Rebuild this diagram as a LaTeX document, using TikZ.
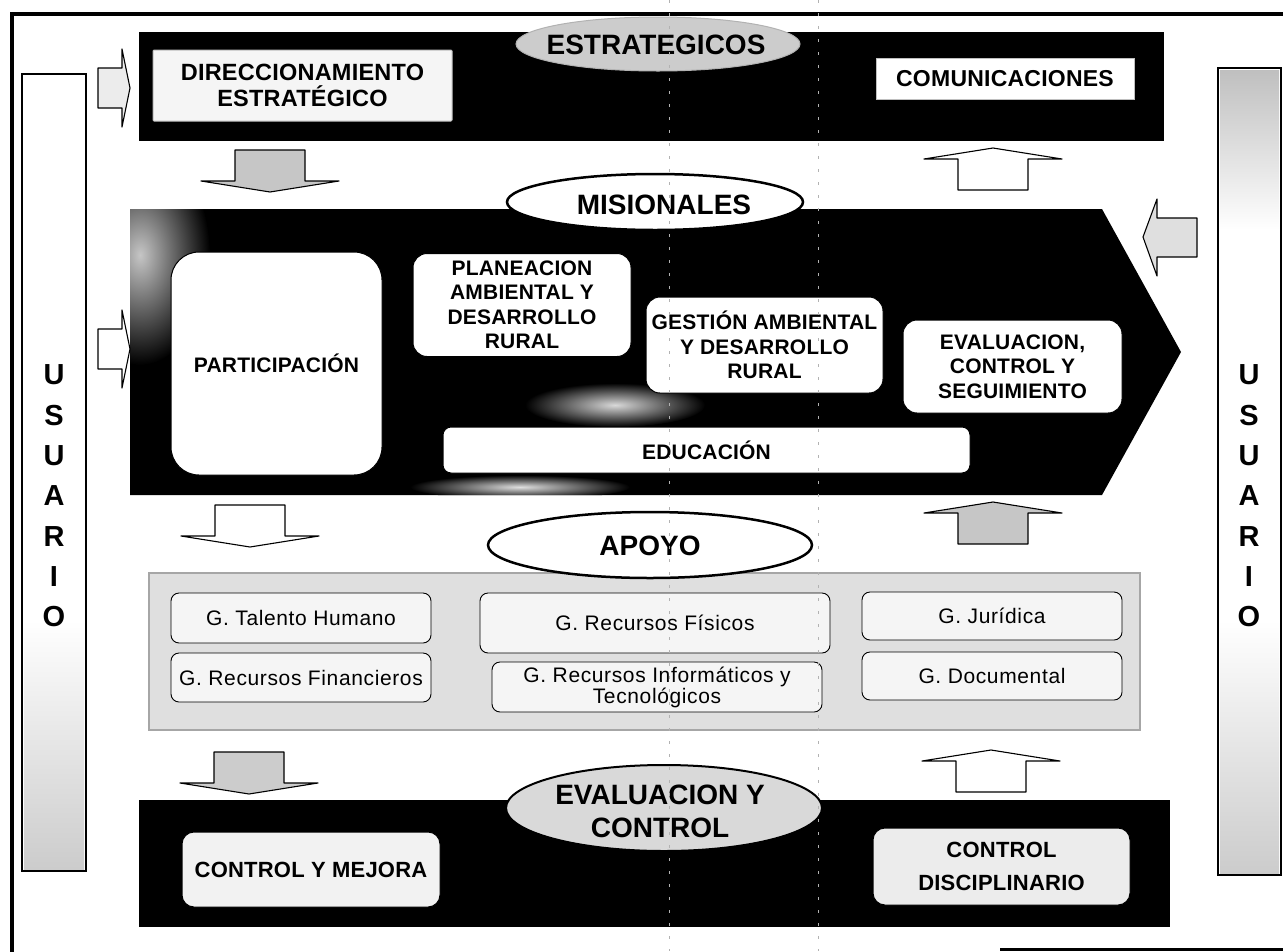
\documentclass[tikz,border=0pt]{standalone}
\usepackage{fontspec}
\setmainfont{Liberation Sans}
\newfontfamily\lsfont{Liberation Sans}[LetterSpace=1]
\newfontfamily\rgfont{Liberation Sans}[LetterSpace=3]
\newcommand\blkdown[3]{\filldraw[arr,fill=#3] ({#1-35},#2) -- ({#1+35},#2) -- ({#1+35},{#2+31}) -- ({#1+69},{#2+31}) -- (#1,{#2+42}) -- ({#1-69},{#2+31}) -- ({#1-35},{#2+31}) -- cycle;}
\newcommand\blkup[3]{\filldraw[arr,fill=#3] (#1,#2) -- ({#1+69},{#2+11}) -- ({#1+35},{#2+11}) -- ({#1+35},{#2+42}) -- ({#1-35},{#2+42}) -- ({#1-35},{#2+11}) -- ({#1-69},{#2+11}) -- cycle;}
\newcommand\blkright[3]{\filldraw[arr,fill=#3] (#1,{#2-20}) -- ({#1+24},{#2-20}) -- ({#1+24},{#2-39}) -- ({#1+32},#2) -- ({#1+24},{#2+39}) -- ({#1+24},{#2+20}) -- (#1,{#2+20}) -- cycle;}
\begin{document}
\begin{tikzpicture}[x=1pt,y=-1pt,
  boxst/.style={draw=black,line width=1pt,fill=white,rounded corners=10pt,align=center,inner sep=0pt,font=\lsfont\bfseries\fontsize{21}{24.5}\selectfont},
  apst/.style={draw=black,line width=0.9pt,fill=gray!8,rounded corners=8pt,align=center,inner sep=0pt,font=\rgfont\fontsize{21}{21}\selectfont},
  bigl/.style={font=\bfseries\fontsize{28}{33}\selectfont,align=center,inner sep=0pt},
  usr/.style={font=\bfseries\fontsize{29}{29}\selectfont,inner sep=0pt},
  arr/.style={draw=black,line width=1.1pt,line join=round},
  oval/.style={draw=black,line width=2.5pt,fill=white},
]
\fill[white] (0,0) rectangle (1283,951);
\useasboundingbox (0,0) rectangle (1283,951);
\clip (0,0) rectangle (1283,951);

% outer frame
\draw[line width=4pt] (12,960) -- (12,14) -- (1290,14);
\draw[line width=3pt] (1000,949) -- (1290,949);

% USUARIO columns
\fill[white] (22,74) rectangle (86,871);
\shade[top color=white,bottom color=gray!40] (24,620) rectangle (84,869);
\draw[line width=2.5pt] (22,74) rectangle (86,871);
\fill[white] (1218,68) rectangle (1281,875);
\shade[top color=gray!50,bottom color=white] (1220,70) rectangle (1279,230);
\shade[top color=white,bottom color=gray!40] (1220,620) rectangle (1279,873);
\draw[line width=2.5pt] (1218,68) rectangle (1281,875);
\foreach \l [count=\i] in {U,S,U,A,R,I,O}{
  \node[usr] (ul\i) at (54,{375+40.3*(\i-1)}) {\l};
  \node[usr] (ur\i) at (1249,{375+40.3*(\i-1)}) {\l};
}

% ESTRATEGICOS band
\fill[black] (139,32) rectangle (1164,141);
\filldraw[fill=gray!40,draw=gray!60,line width=1pt] (658,44) ellipse [x radius=142, y radius=27];
\node[bigl] (estr) at (656,45) {ESTRATEGICOS};
\node[boxst,fill=gray!8,draw=gray!50,rounded corners=1pt,minimum width=299pt,minimum height=71pt,
  font=\lsfont\bfseries\fontsize{23.5}{26}\selectfont] (dir) at (302.5,85.5) {DIRECCIONAMIENTO\\ESTRATÉGICO};
\node[boxst,rounded corners=0pt,draw=gray!50,minimum width=258pt,minimum height=41pt,
  font=\lsfont\bfseries\fontsize{23}{26}\selectfont] (com) at (1005,78.5) {COMUNICACIONES};
\blkright{98}{88}{gray!15}

% arrows between bands
\blkdown{270}{150}{gray!45}
\blkup{993}{148}{white}

% MISIONALES
\path[fill=black] (130,209) -- (1102,209) -- (1181,352) -- (1102,495) -- (130,495) -- cycle;
\begin{scope}
  \clip (130,209) -- (1102,209) -- (1181,352) -- (1102,495) -- (130,495) -- cycle;
  \shade[inner color=gray!45,outer color=black] (140,255) ellipse [x radius=70, y radius=110];
  \shade[inner color=gray!30,outer color=black] (615,405) ellipse [x radius=90, y radius=22];
  \shade[inner color=gray!25,outer color=black] (520,487) ellipse [x radius=110, y radius=12];
\end{scope}
\filldraw[oval] (655,202) ellipse [x radius=148, y radius=28];
\node[bigl] (mis) at (664,205) {MISIONALES};
\node[boxst,rounded corners=28pt,minimum width=211pt,minimum height=223pt] (par) at (276.5,363.5) {PARTICIPACIÓN};
\node[boxst,rounded corners=14pt,minimum width=218pt,minimum height=103pt] (pla) at (522,305) {PLANEACION\\AMBIENTAL Y\\DESARROLLO\\RURAL};
\node[boxst,rounded corners=14pt,minimum width=237pt,minimum height=96pt] (ges) at (764.5,345) {GESTIÓN AMBIENTAL\\Y DESARROLLO\\RURAL};
\node[boxst,rounded corners=14pt,minimum width=219pt,minimum height=93pt] (eva) at (1012.5,366.5) {EVALUACION,\\CONTROL Y\\SEGUIMIENTO};
\node[boxst,rounded corners=8pt,minimum width=527pt,minimum height=46pt] (edu) at (706.5,450) {EDUCACIÓN};
\blkright{98}{349}{white}
\filldraw[arr,fill=gray!25] (1143,237) -- (1157,199) -- (1157,218) -- (1197,218) -- (1197,257) -- (1157,257) -- (1157,276) -- cycle;

% arrows to APOYO
\blkdown{250}{505}{white}
\blkup{993}{502}{gray!45}

% APOYO
\filldraw[fill=gray!25,draw=gray!70,line width=1.5pt] (149,573) rectangle (1140,730);
\filldraw[oval] (650,545) ellipse [x radius=162, y radius=33];
\node[bigl] (apo) at (650,546) {APOYO};
\node[apst,minimum width=260pt,minimum height=50pt] (tal) at (301,618) {G. Talento Humano};
\node[apst,minimum width=260pt,minimum height=49pt] (fin) at (301,677.5) {G. Recursos Financieros};
\node[apst,minimum width=350pt,minimum height=60pt] (fis) at (655,623) {G. Recursos Físicos};
\node[apst,minimum width=330pt,minimum height=50pt] (inf) at (657,687) {G. Recursos Informáticos y\\Tecnológicos};
\node[apst,minimum width=260pt,minimum height=48pt] (jur) at (992,616) {G. Jurídica};
\node[apst,minimum width=260pt,minimum height=48pt] (doc) at (992,676) {G. Documental};

% arrows to EVALUACION
\blkdown{249}{752}{gray!40}
\blkup{991}{750}{white}

% EVALUACION Y CONTROL band
\fill[black] (139,800) rectangle (1170,927);
\filldraw[fill=gray!30,draw=black,line width=2pt] (664,808) ellipse [x radius=158, y radius=43];
\node[bigl] (evc) at (660,811) {EVALUACION Y\\CONTROL};
\node[boxst,fill=gray!10,rounded corners=12pt,minimum width=258pt,minimum height=75pt,font=\lsfont\bfseries\fontsize{22}{26}\selectfont] (cym) at (311,869.5) {CONTROL Y MEJORA};
\node[boxst,fill=gray!15,rounded corners=12pt,minimum width=257pt,minimum height=77pt,font=\lsfont\bfseries\fontsize{22}{33}\selectfont] (cdi) at (1001.5,866.5) {CONTROL\\DISCIPLINARIO};

% scan fold lines
\draw[gray!60,line width=0.8pt,dash pattern=on 3pt off 10pt] (669,0) -- (669,951);
\draw[gray!60,line width=0.8pt,dash pattern=on 3pt off 10pt] (818,0) -- (818,951);
\end{tikzpicture}
\end{document}
